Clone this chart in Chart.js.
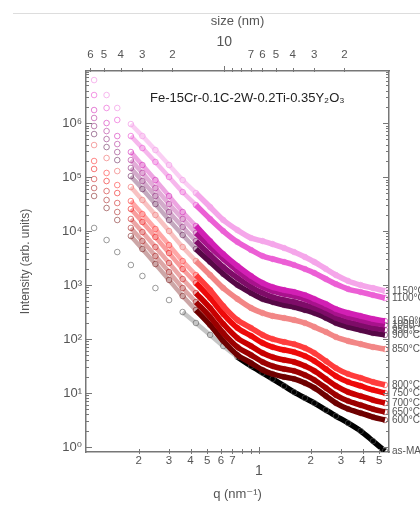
<!DOCTYPE html>
<html><head><meta charset="utf-8">
<script src="https://cdn.jsdelivr.net/npm/chart.js@4/dist/chart.umd.min.js"></script>
<style>html,body{margin:0;padding:0;background:#fff;}canvas{display:block;}</style>
</head><body>
<canvas id="c" width="420" height="505"></canvas>
<script>
// ---- data ----
const qValues = [0.11,0.13,0.15,0.18,0.21,0.25,0.3,0.36,0.43,0.52,0.62,0.75,0.9,1.05,1.2,1.4,1.6,1.85,2.1,2.45,2.8,3.3,3.9,4.6,5.4];
const seriesLabels = ['1150°C','1100°C','1050°C','1000°C','950°C','900°C','850°C','800°C','750°C','700°C','650°C','600°C','as-MA'];
const i1150 = [6.25e6,3.3e6,1.9e6,9.57e5,5.74e5,3.16e5,1.67e5,8.79e4,5.05e4,2.78e4,1.6e4,1.04e4,7410,6520,5740,4840,4080,3300,2670,1980,1530,1190,1000,879,774];
const i1100 = [3.3e6,1.9e6,1.14e6,5.74e5,3.44e5,1.9e5,1.0e5,5.27e4,3.03e4,1.67e4,1.0e4,6250,4450,3440,3030,2670,2350,1980,1670,1290,1040,843,741,652,574];
const i1050 = [1.74e6,1.0e6,5.74e5,2.9e5,1.67e5,8.79e4,4.45e4,2.25e4,1.24e4,6520,3750,2250,1470,1090,918,807,741,652,550,445,359,303,267,235,215];
const i1000 = [1.24e6,7.1e5,4.08e5,2.06e5,1.19e5,6.25e4,3.16e4,1.67e4,9180,5050,3030,1820,1190,918,774,681,625,550,464,375,303,256,225,198,182];
const i950  = [8.79e5,5.05e5,2.9e5,1.47e5,8.43e4,4.45e4,2.25e4,1.19e4,6520,3590,2150,1350,918,710,599,527,484,426,375,303,245,206,182,160,147];
const i900  = [6.25e5,3.59e5,2.06e5,1.04e5,5.99e4,3.16e4,1.6e4,8430,4640,2670,1600,1000,710,550,484,426,391,344,303,245,198,167,147,129,119];
const i850  = [3.91e5,2.25e5,1.29e5,6.52e4,3.75e4,1.98e4,1.0e4,5050,2780,1530,879,550,375,303,267,245,225,198,167,135,109,91.8,80.7,71,65.2];
const i800  = [1.98e5,1.19e5,7.1e4,3.59e4,2.06e4,1.09e4,5500,2780,1530,807,408,225,160,119,100,87.9,80.7,68.1,55,39.1,29,22.5,19,16,14.1];
const i750  = [1.41e5,8.43e4,5.05e4,2.56e4,1.47e4,7740,3910,1980,1090,574,290,160,114,84.3,71,62.5,57.4,48.4,39.1,27.8,20.6,16,13.5,11.4,10];
const i700  = [9.18e4,5.5e4,3.3e4,1.67e4,9570,5050,2560,1290,710,375,190,104,74.1,55,46.4,40.8,37.5,31.6,25.6,18.2,13.5,10.4,8.79,7.41,6.52];
const i650  = [6.25e4,3.75e4,2.25e4,1.14e4,6520,3440,1740,879,484,256,129,71,50.5,37.5,31.6,27.8,25.6,21.5,17.4,12.4,9.18,7.1,5.99,5.05,4.45];
const i600  = [4.45e4,2.67e4,1.6e4,8070,4640,2450,1240,625,344,182,91.8,50.5,35.9,26.7,22.5,19.8,18.2,15.3,12.4,8.79,6.52,5.05,4.26,3.59,3.16];
const iAsMA = [1.14e4,6810,4080,2350,1470,879,527,316,198,119,74.1,46.4,31.6,23.5,18.2,13.5,10.4,8.07,6.52,4.84,3.75,2.78,1.98,1.29,0.843];
const seriesValues = [i1150,i1100,i1050,i1000,i950,i900,i850,i800,i750,i700,i650,i600,iAsMA];

// tick values / labels
const xTickValues = [0.2,0.3,0.4,0.5,0.6,0.7,0.8,0.9,1,2,3,4,5];
const xTickLabels = ['2','3','4','5','6','7','','','1','2','3','4','5'];
const sizeTickValues = [60,50,40,30,20,10,9,8,7,6,5,4,3,2];
const sizeTickLabels = ['6','5','4','3','2','10','','','7','6','5','4','3','2'];
const yMajorTicks = [1,10,100,1000,10000,100000,1000000];
const yTickLabels = ['10⁰','10¹','10²','10³','10⁴','10⁵','10⁶'];
const chartTitle = 'Fe-15Cr-0.1C-2W-0.2Ti-0.35Y₂O₃';

// ---- styling ----
const seriesColors = ['#f5a6ea','#ec5fd5','#d21fb4','#a8128c','#7e0c68','#560846','#f28686','#ff3c3c','#ee0a0a','#c80000','#9c0000','#6e0000','#000000'];
const paleColors   = ['rgba(245,166,234,0.55)','rgba(236,95,213,0.45)','rgba(210,31,180,0.4)','rgba(168,18,140,0.35)','rgba(126,12,104,0.35)','rgba(86,8,70,0.35)','rgba(242,134,134,0.5)','rgba(255,60,60,0.45)','rgba(238,10,10,0.4)','rgba(200,0,0,0.35)','rgba(156,0,0,0.35)','rgba(110,0,0,0.35)','rgba(90,90,90,0.35)'];
const pointColors  = ['rgba(245,166,234,0.8)','rgba(236,95,213,0.65)','rgba(210,31,180,0.55)','rgba(168,18,140,0.5)','rgba(126,12,104,0.5)','rgba(86,8,70,0.5)','rgba(242,134,134,0.75)','rgba(255,60,60,0.6)','rgba(238,10,10,0.55)','rgba(200,0,0,0.5)','rgba(156,0,0,0.5)','rgba(110,0,0,0.5)','rgba(90,90,90,0.6)'];
const paleStart    = [0.18,0.18,0.18,0.18,0.18,0.18,0.18,0.18,0.18,0.18,0.18,0.18,0.36];
const solidStart   = [0.43,0.43,0.43,0.43,0.43,0.43,0.43,0.43,0.43,0.43,0.43,0.43,0.75];
const X_MIN = 0.0987, X_MAX = 5.7, Y_MIN = 0.808, Y_MAX = 9.2e6;
const FONT = "'Liberation Sans','DejaVu Sans',sans-serif";
const TXT = '#555';

const yTicksAll = [];
yMajorTicks.forEach(d => { for (let m = 1; m <= 9; m++) { const v = m * d; if (v >= Y_MIN && v <= Y_MAX) yTicksAll.push(v); } });

const datasets = seriesValues.map((arr, k) => ({
  label: seriesLabels[k],
  data: qValues.map((q, i) => ({x: q, y: arr[i]})),
  showLine: true,
  borderColor: seriesColors[k],
  borderWidth: 5.5,
  tension: 0.3,
  pointRadius: 2.8,
  pointBorderWidth: 1,
  pointBorderColor: pointColors[k],
  pointBackgroundColor: 'rgba(0,0,0,0)',
  segment: {
    borderColor: c => c.p0.parsed.x < paleStart[k] ? 'rgba(0,0,0,0)' : (c.p0.parsed.x < solidStart[k] ? paleColors[k] : undefined),
    borderWidth: c => c.p0.parsed.x < solidStart[k] ? 4.5 : undefined
  }
}));

const decoPlugin = {
  id: 'deco',
  beforeDraw(chart) {
    const ctx = chart.ctx;
    ctx.save();
    ctx.strokeStyle = '#dddddd'; ctx.lineWidth = 1;
    ctx.beginPath(); ctx.moveTo(13, 13.5); ctx.lineTo(420, 13.5); ctx.stroke();
    ctx.restore();
  },
  afterDatasetsDraw(chart) {
    const ctx = chart.ctx, a = chart.chartArea;
    ctx.save();
    ctx.fillStyle = '#222';
    ctx.font = '13px ' + FONT;
    ctx.textBaseline = 'middle'; ctx.textAlign = 'left';
    ctx.fillText(chartTitle, 150, 98);
    ctx.fillStyle = TXT; ctx.font = '10px ' + FONT;
    chart.data.datasets.forEach((ds, k) => {
      const pts = chart.getDatasetMeta(k).data;
      const p = pts[pts.length - 1];
      ctx.fillText(ds.label, a.right + 3, p.y);
    });
    ctx.restore();
  },
  afterDraw(chart) {
    const ctx = chart.ctx, a = chart.chartArea, s = chart.scales;
    ctx.save();
    ctx.strokeStyle = '#777'; ctx.lineWidth = 1;
    const ln = (x1, y1, x2, y2) => { ctx.beginPath(); ctx.moveTo(x1, y1); ctx.lineTo(x2, y2); ctx.stroke(); };
    s.y.ticks.forEach(t => {
      const p = Math.round(s.y.getPixelForValue(t.value)) + 0.5;
      const L = yMajorTicks.includes(t.value) ? 6 : 3;
      ln(a.left, p, a.left + L, p);
      ln(a.right, p, a.right - L, p);
    });
    s.x.ticks.forEach(t => {
      const p = Math.round(s.x.getPixelForValue(t.value)) + 0.5;
      const L = t.value === 1 ? 5 : 3;
      ln(p, a.bottom - L, p, a.bottom + 2);
    });
    s.xTop.ticks.forEach((t, i) => {
      const p = Math.round(s.xTop.getPixelForValue(t.value)) + 0.5;
      const L = sizeTickValues[i] === 10 ? 5 : 3;
      ln(p, a.top - L, p, a.top + 1);
    });
    ctx.restore();
  }
};

new Chart(document.getElementById('c'), {
  type: 'scatter',
  data: { datasets },
  plugins: [decoPlugin],
  options: {
    responsive: false, animation: false, devicePixelRatio: 1,
    layout: { padding: 0 },
    plugins: { legend: { display: false }, tooltip: { enabled: false } },
    scales: {
      x: {
        type: 'logarithmic', position: 'bottom', min: X_MIN, max: X_MAX,
        afterBuildTicks: sc => { sc.ticks = xTickValues.map(v => ({value: v})); },
        afterFit: sc => { sc.height = 53; },
        grid: { drawOnChartArea: false, drawTicks: false },
        border: { display: true, color: '#777', width: 1.5 },
        ticks: {
          autoSkip: false, maxRotation: 0, padding: 3, color: TXT,
          callback: (v, i) => xTickValues[i] === 1 ? ['', xTickLabels[i]] : xTickLabels[i],
          font: c => (xTickValues[c.index] === 1) ? {family: FONT, size: 14, lineHeight: 0.75} : {family: FONT, size: 11.5, lineHeight: 1}
        },
        title: { display: true, text: 'q (nm⁻¹)', color: TXT, font: {family: FONT, size: 13}, padding: {top: 0, bottom: 3} }
      },
      xTop: {
        type: 'logarithmic', position: 'top', min: X_MIN, max: X_MAX,
        afterBuildTicks: sc => { sc.ticks = sizeTickValues.map(s => ({value: 2 * Math.PI / s})); },
        afterFit: sc => { sc.height = 71; },
        grid: { drawOnChartArea: false, drawTicks: false },
        border: { display: true, color: '#777', width: 1.5 },
        ticks: {
          autoSkip: false, maxRotation: 0, padding: 10.25, color: TXT,
          callback: (v, i) => sizeTickValues[i] === 10 ? [sizeTickLabels[i], ''] : sizeTickLabels[i],
          font: c => (sizeTickValues[c.index] === 10) ? {family: FONT, size: 14, lineHeight: 0.893} : {family: FONT, size: 11.5, lineHeight: 1}
        },
        title: { display: true, text: 'size (nm)', color: TXT, font: {family: FONT, size: 13}, padding: {top: 14, bottom: 0} }
      },
      y: {
        type: 'logarithmic', position: 'left', min: Y_MIN, max: Y_MAX,
        afterBuildTicks: sc => { sc.ticks = yTicksAll.map(v => ({value: v})); },
        afterFit: sc => { sc.width = 86; },
        grid: { drawOnChartArea: false, drawTicks: false },
        border: { display: true, color: '#777', width: 1.5 },
        ticks: {
          autoSkip: false, padding: 4, color: TXT, font: {family: FONT, size: 13},
          callback: v => { const j = yMajorTicks.indexOf(v); return j >= 0 ? yTickLabels[j] : ''; }
        },
        title: { display: true, text: 'Intensity (arb. units)', color: TXT, font: {family: FONT, size: 12}, padding: {top: 18, bottom: 0} }
      },
      yRight: {
        type: 'logarithmic', position: 'right', min: Y_MIN, max: Y_MAX,
        afterBuildTicks: sc => { sc.ticks = yTicksAll.map(v => ({value: v})); },
        afterFit: sc => { sc.width = 31; },
        grid: { drawOnChartArea: false, drawTicks: false },
        border: { display: true, color: '#777', width: 1.5 },
        ticks: { display: false }
      }
    }
  }
});
</script>
</body></html>
